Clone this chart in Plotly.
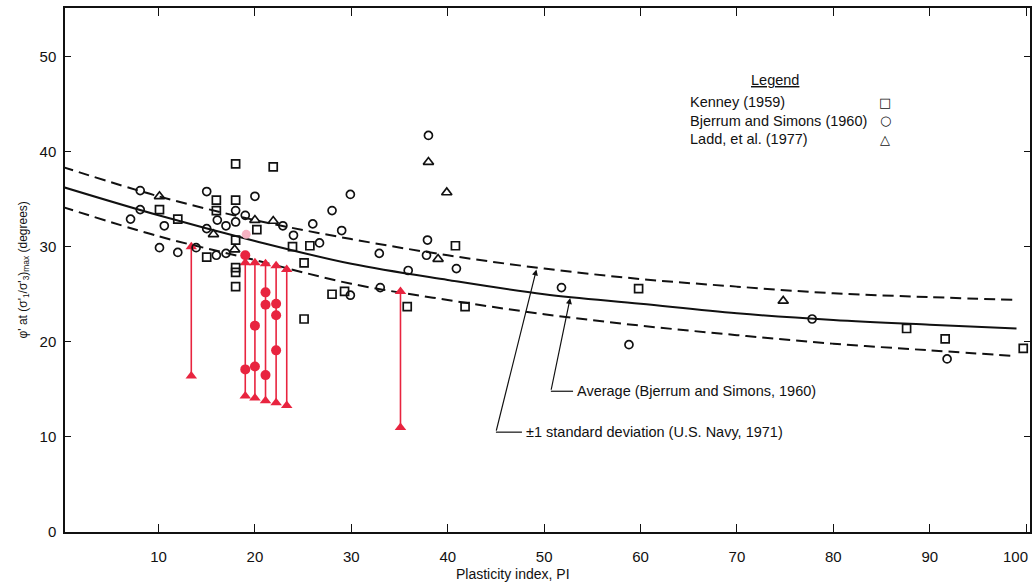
import plotly.graph_objects as go

# ---------------- data ----------------
kenney_pi = [18.0, 21.9, 16.0, 18.0, 10.1, 12.0, 16.0, 20.2, 18.0, 23.9, 25.7, 15.0, 18.0, 18.0,
             18.0, 25.1, 25.1, 28.0, 29.3, 40.8, 35.8, 41.8, 59.8, 87.6, 91.6, 99.7]
kenney_phi = [38.7, 38.4, 34.9, 34.9, 33.9, 32.9, 33.8, 31.8, 30.7, 30.0, 30.1, 28.9, 27.8, 27.3,
              25.8, 28.3, 22.4, 25.0, 25.3, 30.1, 23.7, 23.7, 25.6, 21.4, 20.3, 19.3]

bjerrum_pi = [8.1, 15.0, 20.0, 8.1, 7.1, 10.6, 18.0, 19.0, 16.1, 17.0, 18.0, 22.9, 24.0, 26.0,
              15.0, 26.7, 10.1, 12.0, 13.9, 16.0, 17.0, 38.0, 29.9, 28.0, 29.0, 32.9, 37.9,
              37.8, 40.9, 35.9, 33.0, 29.9, 51.8, 77.8, 58.8, 91.8]
bjerrum_phi = [35.9, 35.8, 35.3, 33.9, 32.9, 32.2, 33.8, 33.3, 32.8, 32.2, 32.6, 32.2, 31.2, 32.4,
               31.9, 30.4, 29.9, 29.4, 29.9, 29.1, 29.3, 41.7, 35.5, 33.8, 31.7, 29.3, 30.7,
               29.1, 27.7, 27.5, 25.7, 24.9, 25.7, 22.4, 19.7, 18.2]

ladd_pi = [10.1, 20.0, 21.9, 15.7, 17.9, 38.0, 39.9, 39.0, 74.8]
ladd_phi = [35.3, 32.8, 32.7, 31.3, 29.7, 38.9, 35.7, 28.7, 24.3]

pink_pi = [19.1]
pink_phi = [31.3]

red_pi = [13.4, 19.0, 20.0, 21.1, 22.2, 23.3, 35.1]
red_top = [30.0, 28.3, 28.3, 28.2, 28.0, 27.6, 25.3]
red_bottom = [16.4, 14.3, 14.1, 13.8, 13.6, 13.3, 11.0]
red_mid_pi = [19.0, 19.0, 20.0, 20.0, 21.1, 21.1, 21.1, 22.2, 22.2, 22.2]
red_mid_phi = [29.1, 17.1, 21.7, 17.4, 25.2, 23.9, 16.5, 24.0, 22.8, 19.1]

curve_pi = [0, 10, 20, 30, 40, 50, 60, 70, 80, 90, 99]
avg_phi = [36.3, 33.3, 30.6, 28.2, 26.5, 25.0, 24.0, 23.0, 22.3, 21.8, 21.4]
upper_phi = [38.4, 35.3, 32.8, 30.8, 29.1, 27.7, 26.6, 25.8, 25.1, 24.7, 24.4]
lower_phi = [34.2, 31.1, 28.6, 26.1, 24.4, 22.9, 21.7, 20.7, 19.8, 19.1, 18.5]

x_ticks = [10, 20, 30, 40, 50, 60, 70, 80, 90, 100]
x_ticktext = ["10", "20", "30", "40", "50", "60", "70", "80", "90", ""]
x_last_label = "100"
y_ticks = [0, 10, 20, 30, 40, 50]

legend_labels = ["Kenney (1959)", "Bjerrum and Simons (1960)", "Ladd, et al. (1977)"]
legend_symbols = ["\u25a1", "\u25cb", "\u25b3"]

# ---------------- styling ----------------
BLACK = "#111111"
RED = "#e8243f"
PINK = "#f6b2c2"
TXT_FONT = "Liberation Sans, Arial, sans-serif"
TICK_FONT = "Liberation Sans Narrow, Arial Narrow, Liberation Sans, sans-serif"

fig = go.Figure()

# curves
fig.add_trace(go.Scatter(x=curve_pi, y=upper_phi, mode="lines", line_shape="spline",
                         line=dict(color=BLACK, width=2, dash="11px,6px"), hoverinfo="skip"))
fig.add_trace(go.Scatter(x=curve_pi, y=lower_phi, mode="lines", line_shape="spline",
                         line=dict(color=BLACK, width=2, dash="11px,6px"), hoverinfo="skip"))
fig.add_trace(go.Scatter(x=curve_pi, y=avg_phi, mode="lines", line_shape="spline",
                         line=dict(color=BLACK, width=2), hoverinfo="skip"))

# red vertical ranges
vx, vy = [], []
for p, b, t in zip(red_pi, red_bottom, red_top):
    vx += [p, p, None]
    vy += [b, t, None]
fig.add_trace(go.Scatter(x=vx, y=vy, mode="lines", line=dict(color=RED, width=1.6)))
fig.add_trace(go.Scatter(x=red_pi + red_pi, y=red_top + red_bottom, mode="markers",
                         marker=dict(symbol="triangle-up", size=10, color=RED)))
fig.add_trace(go.Scatter(x=red_mid_pi, y=red_mid_phi, mode="markers",
                         marker=dict(symbol="circle", size=10, color=RED)))
fig.add_trace(go.Scatter(x=pink_pi, y=pink_phi, mode="markers",
                         marker=dict(symbol="circle", size=9, color=PINK)))

# data sets
mk_line = dict(color=BLACK, width=1.7)
fig.add_trace(go.Scatter(x=kenney_pi, y=kenney_phi, mode="markers", name=legend_labels[0],
                         marker=dict(symbol="square-open", size=8, color=BLACK, line=mk_line)))
fig.add_trace(go.Scatter(x=bjerrum_pi, y=bjerrum_phi, mode="markers", name=legend_labels[1],
                         marker=dict(symbol="circle-open", size=8, color=BLACK, line=mk_line)))
fig.add_trace(go.Scatter(x=ladd_pi, y=ladd_phi, mode="markers", name=legend_labels[2],
                         marker=dict(symbol="triangle-up-open", size=9, color=BLACK, line=mk_line)))

annotations = []
shapes = []

# leader lines
annotations.append(dict(x=52.7, y=24.6, ax=50.7, ay=14.8, xref="x", yref="y", axref="x", ayref="y",
                        showarrow=True, arrowhead=2, arrowsize=1, arrowwidth=1.2,
                        arrowcolor=BLACK, text=""))
shapes.append(dict(type="line", xref="x", yref="y", x0=50.7, y0=14.8, x1=53.0, y1=14.8,
                   line=dict(color=BLACK, width=1.2)))
annotations.append(dict(x=53.2, y=14.8, xref="x", yref="y", showarrow=False, xanchor="left",
                        yanchor="middle", text="Average (Bjerrum and Simons, 1960)",
                        font=dict(family=TXT_FONT, size=14.5, color=BLACK)))

annotations.append(dict(x=49.2, y=27.6, ax=45.0, ay=10.5, xref="x", yref="y", axref="x", ayref="y",
                        showarrow=True, arrowhead=2, arrowsize=1, arrowwidth=1.2,
                        arrowcolor=BLACK, text=""))
shapes.append(dict(type="line", xref="x", yref="y", x0=45.0, y0=10.5, x1=47.7, y1=10.5,
                   line=dict(color=BLACK, width=1.2)))
annotations.append(dict(x=47.9, y=10.5, xref="x", yref="y", showarrow=False, xanchor="left",
                        yanchor="middle", text="\u00b11 standard deviation (U.S. Navy, 1971)",
                        font=dict(family=TXT_FONT, size=14.5, color=BLACK)))

# custom legend
annotations.append(dict(x=74.0, y=47.5, xref="x", yref="y", showarrow=False, xanchor="center",
                        yanchor="middle", text="<u>Legend</u>",
                        font=dict(family=TXT_FONT, size=14.5, color=BLACK)))
for i, (lab, sym) in enumerate(zip(legend_labels, legend_symbols)):
    yy = 45.2 - i * 1.95
    annotations.append(dict(x=64.9, y=yy, xref="x", yref="y", showarrow=False, xanchor="left",
                            yanchor="middle", text=lab,
                            font=dict(family=TXT_FONT, size=14.5, color=BLACK)))
    annotations.append(dict(x=85.4, y=yy, xref="x", yref="y", showarrow=False, xanchor="center",
                            yanchor="middle", text=sym,
                            font=dict(family="DejaVu Sans", size=13, color=BLACK)))

# last x tick label (kept inside the page)
annotations.append(dict(x=1.0, y=-0.046, xref="paper", yref="paper", showarrow=False,
                        xanchor="right", yanchor="middle", text=x_last_label,
                        font=dict(family=TICK_FONT, size=15, color=BLACK)))

# axis titles
annotations.append(dict(x=-0.043, y=0.5, xref="paper", yref="paper", showarrow=False,
                        textangle=-90, xanchor="center", yanchor="middle",
                        text="\u03c6' at (\u03c3'<sub>1</sub>/\u03c3'<sub>3</sub>)<sub>max</sub> (degrees)",
                        font=dict(family=TXT_FONT, size=12, color=BLACK)))
annotations.append(dict(x=0.464, y=-0.08, xref="paper", yref="paper", showarrow=False,
                        xanchor="center", yanchor="middle", text="Plasticity index, PI",
                        font=dict(family=TXT_FONT, size=14, color=BLACK)))

fig.update_layout(
    width=1034, height=584,
    margin=dict(l=65, r=4, t=8, b=52, autoexpand=False),
    paper_bgcolor="white", plot_bgcolor="white",
    showlegend=False,
    annotations=annotations, shapes=shapes,
)
fig.update_xaxes(range=[0.3, 100.4], tickvals=x_ticks, ticktext=x_ticktext,
                 showgrid=False, zeroline=False, showline=True, linecolor=BLACK, linewidth=1.5,
                 mirror="ticks", ticks="inside", ticklen=8, tickwidth=1.3, tickcolor=BLACK,
                 ticklabelstandoff=10, automargin=False,
                 tickfont=dict(family=TICK_FONT, size=15, color=BLACK))
fig.update_yaxes(range=[0, 55.1], tickvals=y_ticks, ticktext=[str(v) for v in y_ticks],
                 showgrid=False, zeroline=False, showline=True, linecolor=BLACK, linewidth=1.5,
                 mirror="ticks", ticks="inside", ticklen=6, tickwidth=1, tickcolor=BLACK,
                 ticklabelstandoff=4, automargin=False,
                 tickfont=dict(family=TICK_FONT, size=15, color=BLACK))

fig.write_html("out.html", config={"displayModeBar": False},
               post_script="document.body.style.margin='0';document.body.style.overflow='hidden';")
